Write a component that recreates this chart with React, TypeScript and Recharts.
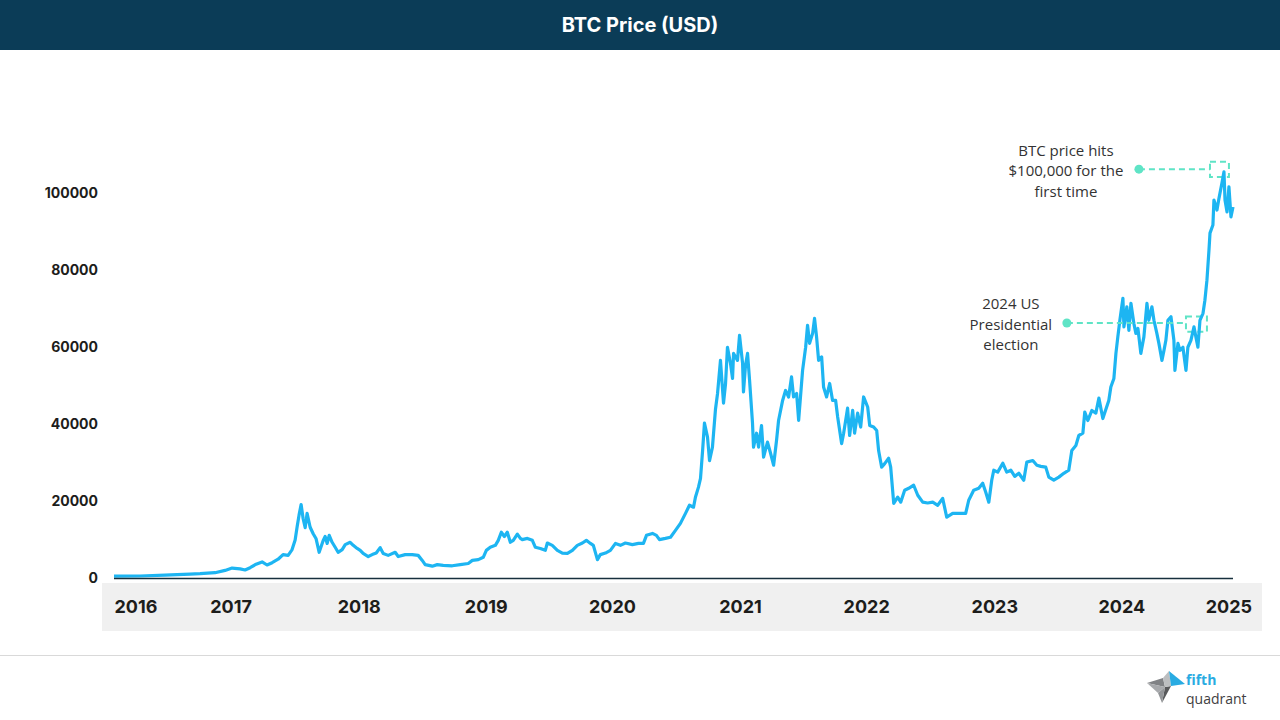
import {
  LineChart,
  Line,
  XAxis,
  YAxis,
  ReferenceArea,
  ReferenceLine,
  ReferenceDot,
} from "recharts";

// position along the time axis (in years, as drawn) and BTC close in USD
const POS = [
  2016.583, 2016.787, 2016.984, 2017.079, 2017.181, 2017.26, 2017.378, 2017.457, 2017.512, 2017.575,
  2017.614, 2017.654, 2017.701, 2017.748, 2017.787, 2017.827, 2017.874, 2017.913, 2017.953, 2017.984,
  2018.008, 2018.024, 2018.039, 2018.055, 2018.071, 2018.087, 2018.102, 2018.126, 2018.15, 2018.173,
  2018.197, 2018.228, 2018.244, 2018.26, 2018.276, 2018.299, 2018.323, 2018.346, 2018.378, 2018.402,
  2018.441, 2018.465, 2018.496, 2018.52, 2018.543, 2018.583, 2018.614, 2018.646, 2018.677, 2018.701,
  2018.74, 2018.795, 2018.819, 2018.874, 2018.929, 2018.976,
  2019.008, 2019.031, 2019.087, 2019.126, 2019.173, 2019.244, 2019.307, 2019.37, 2019.402, 2019.449,
  2019.488, 2019.512, 2019.543, 2019.583, 2019.606, 2019.63, 2019.654, 2019.677, 2019.701, 2019.724,
  2019.756, 2019.78, 2019.795, 2019.835, 2019.874, 2019.898, 2019.937, 2019.976, 2019.992,
  2020.031, 2020.071, 2020.11, 2020.15, 2020.189, 2020.228, 2020.268, 2020.299, 2020.331, 2020.354,
  2020.386, 2020.409, 2020.449, 2020.488, 2020.528, 2020.567, 2020.606, 2020.661, 2020.709, 2020.748,
  2020.772, 2020.819, 2020.85, 2020.874, 2020.921, 2020.961,
  2021.0, 2021.039, 2021.079, 2021.11, 2021.142, 2021.157, 2021.181, 2021.197, 2021.213, 2021.228,
  2021.252, 2021.268, 2021.291, 2021.315, 2021.331, 2021.354, 2021.378, 2021.394, 2021.409, 2021.433,
  2021.449, 2021.457, 2021.488, 2021.504, 2021.528, 2021.535, 2021.551, 2021.567, 2021.583, 2021.606,
  2021.614, 2021.638, 2021.654, 2021.677, 2021.693, 2021.724, 2021.748, 2021.772, 2021.795, 2021.811,
  2021.843, 2021.866, 2021.89, 2021.913, 2021.929, 2021.953, 2021.969,
  2022.0, 2022.024, 2022.039, 2022.055, 2022.079, 2022.094, 2022.11, 2022.126, 2022.15, 2022.165,
  2022.189, 2022.213, 2022.236, 2022.26, 2022.276, 2022.307, 2022.323, 2022.354, 2022.37, 2022.394,
  2022.409, 2022.433, 2022.457, 2022.48, 2022.512, 2022.528, 2022.559, 2022.583, 2022.598, 2022.622,
  2022.646, 2022.677, 2022.693, 2022.717, 2022.748, 2022.772, 2022.803, 2022.835, 2022.874, 2022.906,
  2022.945, 2022.984,
  2023.024, 2023.063, 2023.102, 2023.134, 2023.181, 2023.228, 2023.283, 2023.307, 2023.346, 2023.386,
  2023.417, 2023.441, 2023.465, 2023.488, 2023.504, 2023.535, 2023.575, 2023.606, 2023.638, 2023.669,
  2023.701, 2023.74, 2023.764, 2023.811, 2023.843, 2023.874, 2023.913, 2023.937, 2023.976,
  2024.016, 2024.055, 2024.094, 2024.118, 2024.15, 2024.173, 2024.205, 2024.22, 2024.244, 2024.276,
  2024.307, 2024.331, 2024.362, 2024.409, 2024.425, 2024.449, 2024.465, 2024.48, 2024.496, 2024.52,
  2024.528, 2024.551, 2024.567, 2024.583, 2024.606, 2024.622, 2024.638, 2024.661, 2024.685, 2024.709,
  2024.724, 2024.748, 2024.764, 2024.787, 2024.803, 2024.827, 2024.843, 2024.858, 2024.874, 2024.898,
  2024.921, 2024.929, 2024.953, 2024.969, 2024.992,
  2025.016, 2025.031, 2025.055, 2025.079, 2025.094, 2025.11, 2025.126, 2025.15, 2025.165, 2025.181,
  2025.197, 2025.205, 2025.228, 2025.236, 2025.26, 2025.276, 2025.299, 2025.315, 2025.323, 2025.339,
  2025.354, 2025.37, 2025.386,
];

const PRICE = [
  600, 650, 900, 1000, 1150, 1250, 1500, 2100, 2700, 2500,
  2200, 2800, 3700, 4300, 3500, 4100, 5000, 6200, 6000, 7500,
  10000, 13500, 16500, 19200, 15500, 13200, 16900, 13300, 11600, 10300,
  6800, 9800, 10900, 9100, 11200, 9400, 8100, 6800, 7500, 8800,
  9400, 8600, 7800, 7300, 6500, 5700, 6200, 6600, 8000, 6500,
  6000, 6800, 5700, 6200, 6200, 6000,
  4700, 3600, 3200, 3600, 3400, 3300, 3600, 3900, 4700, 4900,
  5500, 7300, 8100, 8600, 9900, 12000, 10900, 12000, 9400, 9900,
  11500, 10400, 10100, 10400, 9900, 8100, 7800, 7300, 9200,
  8600, 7300, 6600, 6500, 7300, 8600, 9200, 9900, 9100, 8600,
  4900, 6200, 6600, 7300, 9100, 8600, 9200, 8800, 9100, 9100,
  11200, 11700, 11200, 10100, 10400, 10700,
  12500, 14300, 16900, 19000, 18500, 21100, 23700, 26000, 33000, 40300,
  36700, 30600, 34100, 44000, 48000, 56600, 45500, 50600, 60000, 55800,
  51900, 58400, 56600, 63100, 55800, 48400, 55300, 58400, 51400, 40300,
  34100, 37700, 34100, 39700, 31500, 35400, 32500, 29400, 35800, 41000,
  46200, 48800, 47100, 52300, 47100, 48000, 41000,
  54000, 60000, 65700, 61000, 63600, 67500, 62700, 56600, 57500, 49700,
  47100, 50600, 46200, 46200, 41900, 35000, 37700, 44200, 37100, 43600,
  37700, 42900, 39300, 47100, 44500, 39700, 39300, 38400, 33200, 28900,
  29800, 31200, 28900, 19500, 21100, 19800, 22900, 23400, 24200, 21600,
  19800, 19600,
  19800, 19000, 20800, 15900, 16900, 16900, 16900, 20300, 22900, 23400,
  24700, 22400, 19800, 25500, 28100, 27600, 29900, 27600, 28100, 26500,
  27300, 25500, 30200, 30600, 29400, 29100, 28900, 26300, 25500,
  26300, 27300, 28100, 33200, 34500, 37100, 37700, 43200, 41000, 43600,
  42900, 46800, 41500, 46200, 49700, 51900, 58400, 62700, 67000, 72700,
  65300, 70500, 64400, 71400, 66200, 63600, 64900, 58400, 62700, 71400,
  67000, 70500, 67000, 63600, 61000, 56600, 59200, 61800, 67000, 67900,
  61800, 54000, 61000, 59200, 60000,
  54000, 60000, 61800, 65300, 62700, 60000, 67000, 68800, 72200, 77400,
  85200, 89600, 91700, 98200, 95600, 98700, 102600, 105500, 98200, 95100,
  101600, 93800, 96400,
];

const Y_TICKS = [0, 20000, 40000, 60000, 80000, 100000];
const YEAR_POS = [2016.756, 2017.504, 2018.512, 2019.512, 2020.504, 2021.512, 2022.504, 2023.512, 2024.512, 2025.354];
const YEAR_LABELS = ["2016", "2017", "2018", "2019", "2020", "2021", "2022", "2023", "2024", "2025"];

const ANNOTATIONS = [
  {
    lines: ["2024 US", "Presidential", "election"],
    dotPos: 2024.079,
    dotPrice: 66300,
    boxFrom: 2025.016,
    boxTo: 2025.181,
    boxLow: 64000,
    boxHigh: 68000,
    textShift: -56,
  },
  {
    lines: ["BTC price hits", "$100,000 for the", "first time"],
    dotPos: 2024.646,
    dotPrice: 106200,
    boxFrom: 2025.205,
    boxTo: 2025.354,
    boxLow: 104200,
    boxHigh: 108100,
    textShift: -73,
  },
];

const data = POS.map((pos, i) => ({ pos, price: PRICE[i] }));

const MINT = "#5fe4c6";
const BLUE = "#1db5f2";
const NOTE_LINE = 20.5;

// dot plus a centred three-line note
function annotationDot(lines: string[], textShift: number) {
  return (props: any) => {
    const { cx, cy } = props;
    const x = cx + textShift;
    return (
      <g>
        <circle cx={cx} cy={cy} r={4.5} fill={MINT} />
        {lines.map((line, i) => (
          <text
            key={i}
            x={x}
            y={cy + 7 + (i - 1) * NOTE_LINE}
            textAnchor="middle"
            fontFamily="'Open Sans', sans-serif"
            fontSize={15}
            fill="#333333"
          >
            {line}
          </text>
        ))}
      </g>
    );
  };
}

function Logo() {
  return (
    <svg width={120} height={46} style={{ position: "absolute", left: 1146, top: 665 }}>
      <polygon points="1,18 17,13 19,22" fill="#808285" />
      <polygon points="1,18 19,22 12,28" fill="#a7a9ac" />
      <polygon points="19,22 25,21 16,38" fill="#58595b" />
      <polygon points="12,28 19,22 16,38" fill="#939598" />
      <polygon points="17,13 23,6 25,21 19,22" fill="#bcbec0" />
      <polygon points="23,6 39,19 25,21" fill="#29abe2" />
      <text x={40} y={20} fontFamily="'Open Sans', sans-serif" fontSize={14} fontWeight={700} fill="#29abe2">
        fifth
      </text>
      <text x={40} y={39} fontFamily="'Open Sans', sans-serif" fontSize={14} fill="#414042">
        quadrant
      </text>
    </svg>
  );
}

export default function App() {
  return (
    <div
      style={{
        position: "absolute",
        left: 0,
        top: 0,
        width: 1280,
        height: 720,
        background: "#ffffff",
        overflow: "hidden",
        fontFamily: "Inter, sans-serif",
      }}
    >
      <div
        style={{
          position: "absolute",
          left: 0,
          top: 0,
          width: 1280,
          height: 50,
          background: "#0b3c57",
          color: "#ffffff",
          fontWeight: 700,
          fontSize: 20,
          lineHeight: "50px",
          textAlign: "center",
        }}
      >
        BTC Price (USD)
      </div>

      {/* grey band behind the year labels */}
      <div style={{ position: "absolute", left: 102, top: 583, width: 1160, height: 48, background: "#f0f0f0" }} />

      <div style={{ position: "absolute", left: 0, top: 0 }}>
        <LineChart
          width={1280}
          height={720}
          data={data}
          margin={{ top: 116, right: 47, bottom: 89.5, left: 0 }}
        >
          <XAxis
            dataKey="pos"
            type="number"
            domain={[POS[0], POS[POS.length - 1]]}
            ticks={YEAR_POS}
            interval={0}
            tickFormatter={(_v: number, i: number) => YEAR_LABELS[i]}
            axisLine={{ stroke: "#17303d", strokeWidth: 1.5 }}
            tickLine={false}
            tickMargin={15.5}
            height={52}
            tick={{ fontSize: 18, fontWeight: 700, fill: "#1d1d1b" }}
          />
          <YAxis
            domain={[0, 120000]}
            ticks={Y_TICKS}
            axisLine={false}
            tickLine={false}
            tickMargin={10}
            width={114}
            tick={{ fontSize: 14, fontWeight: 700, fill: "#1d1d1b" }}
          />
          <Line
            type="linear"
            dataKey="price"
            stroke={BLUE}
            strokeWidth={3.2}
            strokeLinejoin="round"
            dot={false}
            activeDot={false}
            isAnimationActive={false}
          />
          {ANNOTATIONS.map((a, i) => (
            <ReferenceArea
              key={"box" + i}
              x1={a.boxFrom}
              x2={a.boxTo}
              y1={a.boxLow}
              y2={a.boxHigh}
              fill="none"
              fillOpacity={0}
              stroke={MINT}
              strokeWidth={2}
              strokeDasharray="6 4"
            />
          ))}
          {ANNOTATIONS.map((a, i) => (
            <ReferenceLine
              key={"link" + i}
              segment={[
                { x: a.dotPos, y: a.dotPrice },
                { x: a.boxFrom, y: a.dotPrice },
              ]}
              stroke={MINT}
              strokeWidth={2}
              strokeDasharray="6 4"
            />
          ))}
          {ANNOTATIONS.map((a, i) => (
            <ReferenceDot
              key={"dot" + i}
              x={a.dotPos}
              y={a.dotPrice}
              r={4.5}
              shape={annotationDot(a.lines, a.textShift)}
            />
          ))}
        </LineChart>
      </div>

      <div style={{ position: "absolute", left: 0, top: 655, width: 1280, height: 1, background: "#d9d9d9" }} />
      <Logo />
    </div>
  );
}
